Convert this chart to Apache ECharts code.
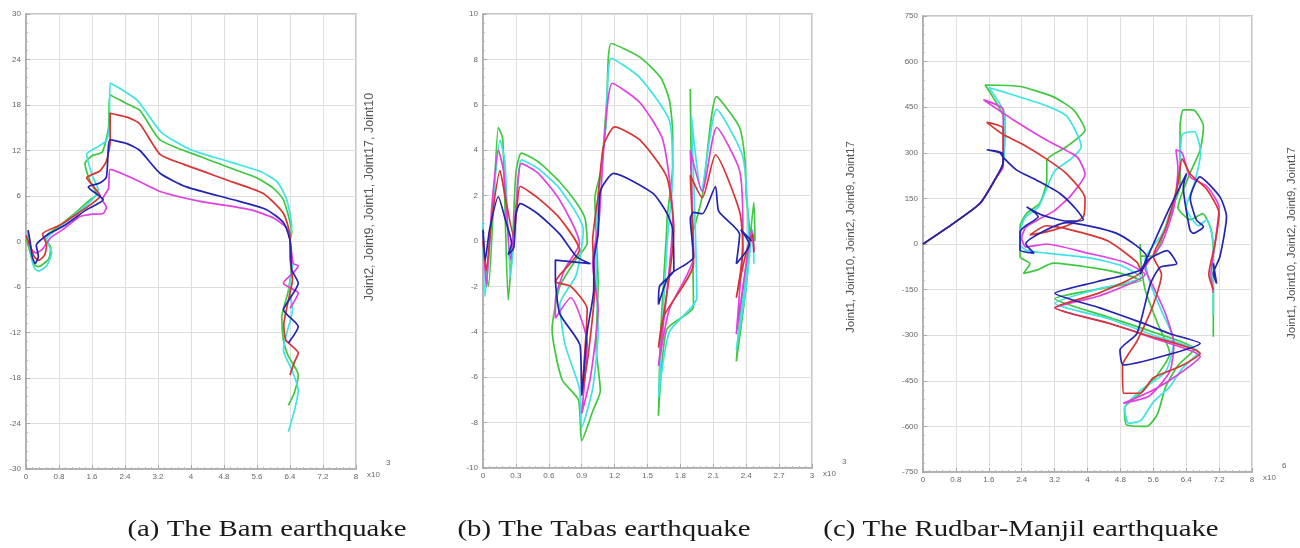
<!DOCTYPE html>
<html>
<head>
<meta charset="utf-8">
<script src="https://cdn.jsdelivr.net/npm/echarts/dist/echarts.min.js"></script>
<style>
  html, body { margin: 0; padding: 0; background: #fff; }
  #chart { width: 1300px; height: 548px; }
</style>
</head>
<body>
<div id="chart"></div>
<script>
// ---- data (x in units of the axis multiplier, y as plotted) ----
var namesA = ['Joint2', 'Joint9', 'Joint1', 'Joint17', 'Joint10'];
var namesBC = ['Joint1', 'Joint10', 'Joint2', 'Joint9', 'Joint17'];
var colors = ['#3fc83f', '#3fe3e3', '#e040e0', '#d83434', '#2424b0'];

// (a) Bam
var bamGreen = [[0,0.3],[0.08,-1],[0.18,-3],[0.3,-3.3],[0.55,-2.3],[0.6,-0.8],[0.45,0.5],[0.8,2],[1.2,3.8],[1.55,5.5],[1.72,6.2],[1.55,8],[1.43,10.3],[1.6,11.3],[1.85,11.8],[2.0,15],[2.04,19.3],[2.4,18.3],[2.76,17.3],[3.25,13.4],[4.22,11.2],[5.0,9.6],[5.59,8.4],[6.0,7],[6.24,5.5],[6.44,1.2],[6.4,0],[6.44,-3],[6.36,-6.5],[6.2,-10],[6.24,-13],[6.35,-15],[6.6,-17.6],[6.5,-20],[6.36,-21.6]];
var bamCyan = [[0,0.5],[0.05,1],[0.12,-1.5],[0.2,-3.5],[0.3,-3.9],[0.5,-3.2],[0.62,-1.5],[0.5,0.3],[0.8,1.8],[1.2,3.6],[1.55,5.2],[1.75,6.8],[1.6,8.8],[1.47,11.5],[1.71,12.4],[1.95,13.3],[2.02,15],[2.04,20.9],[2.3,20.1],[2.7,18.6],[3.0,16.4],[3.3,14.3],[4.0,12.1],[5.0,10.4],[5.7,9.2],[6.1,7.8],[6.32,5.5],[6.44,2],[6.4,0],[6.46,-3],[6.38,-6],[6.46,-9],[6.3,-12.5],[6.24,-14.3],[6.45,-17],[6.6,-19.6],[6.52,-22],[6.36,-25.1]];
var bamMagenta = [[0.05,0],[0.15,-1.2],[0.25,-1.5],[0.4,-1],[0.6,0.5],[0.9,1.6],[1.31,3.3],[1.6,3.6],[1.87,3.7],[1.95,4.5],[1.85,5.5],[2.0,7],[2.04,9.5],[2.6,8.3],[3.25,6.6],[4.22,5.3],[5.43,4.2],[6.0,3.1],[6.32,1.8],[6.4,0.2],[6.48,-2.9],[6.6,-3.2],[6.5,-4],[6.24,-5.5],[6.6,-6.8],[6.4,-8.8]];
var bamRed = [[0,0.8],[0.1,-0.5],[0.2,-2],[0.3,-2.5],[0.45,-1.8],[0.5,-0.5],[0.4,1],[0.8,2.1],[1.2,3.5],[1.6,5],[1.8,6],[1.6,7.5],[1.47,8.4],[1.79,9.3],[1.95,10.6],[2.04,13.2],[2.04,16.9],[2.45,16.4],[2.76,15.5],[3.25,11.5],[3.81,10.2],[5.03,7.8],[5.76,6.3],[6.24,3.7],[6.4,0.7],[6.4,-2],[6.46,-5],[6.35,-8],[6.25,-11],[6.3,-13],[6.6,-14.7],[6.5,-16],[6.4,-17.6]];
var bamBlue = [[0.05,1.5],[0.1,0],[0.15,-2],[0.22,-2.9],[0.3,-2],[0.25,-0.5],[0.58,1.1],[0.9,2],[1.47,4.2],[1.87,5.5],[1.51,7.2],[1.79,7.7],[1.95,8.5],[2.04,13.4],[2.45,12.9],[2.76,12],[3.25,9.0],[3.89,7.2],[5.03,5.5],[5.83,4.2],[6.24,2.5],[6.4,0.2],[6.42,-1.1],[6.44,-3.7],[6.6,-5.5],[6.4,-7.5],[6.24,-9],[6.6,-11.2],[6.36,-13.4]];

// (b) Tabas
var tabGreen = [[0,0.5],[0.02,-1],[0.05,-2],[0.1,2],[0.14,5.0],[0.18,4.5],[0.23,-2.6],[0.27,0],[0.3,3],[0.35,3.87],[0.5,3.5],[0.7,2.6],[0.85,1.7],[0.93,1.0],[0.95,-0.1],[0.85,-0.8],[0.7,-2],[0.63,-3.9],[0.72,-6.1],[0.87,-7.0],[0.9,-8.8],[1.0,-7.5],[1.07,-6.6],[1.03,-4.6],[1.05,-1.9],[1.02,1.9],[1.08,3.2],[1.13,6.3],[1.17,8.7],[1.43,8.1],[1.62,7.2],[1.7,6.2],[1.73,4.7],[1.73,3.3],[1.68,1.1],[1.675,0.48],[1.62,-4],[1.6,-7.7],[1.675,-3.9],[1.92,-2.9],[1.91,0],[1.89,6.7],[1.92,0.5],[2.0,2],[2.13,6.36],[2.34,5.0],[2.39,3.5],[2.4,2.0],[2.43,0.5],[2.35,-3],[2.31,-5.3],[2.4,-2],[2.47,1.7],[2.48,0]];
var tabCyan = [[0,0.8],[0.018,-2.45],[0.08,1],[0.155,4.45],[0.2,3.5],[0.25,-1.6],[0.3,1],[0.35,3.57],[0.5,3.2],[0.7,2.3],[0.915,0.48],[0.85,-1.5],[0.7,-2.8],[0.75,-4.6],[0.88,-6.5],[0.9,-8.2],[1.0,-6.5],[1.05,-4],[1.03,-1],[1.05,2],[1.12,5],[1.17,8.05],[1.43,7.2],[1.7,5.3],[1.73,2.8],[1.68,0],[1.6,-6.9],[1.7,-4],[1.95,-2.5],[1.9,5.5],[1.99,2.2],[2.13,5.8],[2.37,3.7],[2.42,0.05],[2.31,-4.8],[2.4,-2],[2.46,0.5],[2.47,-1]];
var tabMagenta = [[0,0.3],[0.03,-2.0],[0.08,1.5],[0.14,4.0],[0.19,3],[0.25,-0.83],[0.3,1.5],[0.35,3.42],[0.5,3.0],[0.7,1.8],[0.88,-0.1],[0.75,-1.2],[0.66,-2.6],[0.66,-3.4],[0.8,-2.5],[0.95,-4.5],[0.9,-7.6],[0.98,-6],[1.05,-3],[1.0,-1],[1.06,1],[1.1,4],[1.18,6.95],[1.43,6.1],[1.64,4.45],[1.73,1.0],[1.6,-5.5],[1.7,-3],[1.92,-0.7],[1.89,4.0],[2.0,2.2],[2.13,5.0],[2.34,3.1],[2.37,0.4],[2.31,-4.1],[2.4,-1],[2.45,0.5],[2.47,-0.5]];
var tabRed = [[0,0],[0.03,-1.3],[0.08,1],[0.155,3.1],[0.2,2],[0.28,0.2],[0.31,1.5],[0.34,2.4],[0.5,1.9],[0.7,1.0],[0.88,-0.4],[0.7,-1.5],[0.66,-1.8],[0.8,-2],[0.95,-3],[0.92,-5.5],[0.9,-6.8],[0.96,-5],[1.02,-2],[1.0,0],[1.05,2],[1.1,4.2],[1.2,5.03],[1.43,4.45],[1.675,2.83],[1.74,0.5],[1.6,-4.7],[1.65,-3.3],[1.92,-1],[1.89,2.9],[2.0,1.9],[2.12,3.8],[2.34,1.3],[2.37,-0.4],[2.31,-2.5],[2.4,-0.5],[2.46,0.3],[2.47,-0.5]];
var tabBlue = [[0,0.5],[0.02,-0.85],[0.06,0.5],[0.14,1.95],[0.2,1],[0.26,-0.1],[0.23,-0.6],[0.28,-0.3],[0.3,1.2],[0.34,1.65],[0.5,1.2],[0.7,0.3],[0.855,-0.7],[0.98,-1.0],[0.66,-0.84],[0.66,-1.57],[0.7,-3.2],[0.885,-4.6],[0.9,-6.8],[0.95,-4],[1.01,-2.1],[1.01,-0.9],[1.05,0.3],[1.07,2.2],[1.19,2.98],[1.55,2.1],[1.68,1.2],[1.73,0.5],[1.74,-1.3],[1.61,-2.0],[1.6,-2.8],[1.7,-1.5],[1.92,-0.7],[1.89,1.0],[1.92,1.26],[2.0,1.2],[2.12,2.4],[2.15,1.3],[2.34,0.3],[2.31,-1.0],[2.43,-0.15],[2.35,0.5],[2.45,0]];

// (c) Rudbar-Manjil
var rudGreen = [[0,0],[0.74,68],[1.39,134],[1.79,221],[1.95,268],[2.0,400],[1.51,523],[2.36,518],[3.17,484],[3.66,441],[3.94,375],[3.49,320],[3.01,276],[3.01,211],[2.84,134],[2.52,101],[2.36,57],[2.36,-42],[2.6,-64],[2.44,-97],[2.76,-86],[3.17,-63],[4.2,-80],[4.79,-96],[5.3,-120],[4.2,-150],[3.21,-180],[4.5,-240],[5.6,-290],[6.6,-345],[6.2,-400],[5.9,-470],[5.7,-560],[5.44,-600],[4.95,-595],[4.9,-540],[5.3,-490],[5.7,-430],[6.0,-360],[5.7,-260],[5.4,-150],[5.3,-60],[5.28,0],[5.3,-40],[5.6,-40],[6.0,100],[6.25,191],[6.25,386],[6.33,441],[6.57,441],[6.82,386],[6.74,309],[6.49,232],[6.2,120],[6.5,80],[6.8,100],[7.0,50],[7.06,-20],[7.06,-305]];
var rudCyan = [[0,0],[0.74,68],[1.39,134],[1.79,221],[1.95,268],[2.0,420],[1.6,515],[2.2,490],[3.0,455],[3.5,420],[3.85,320],[3.6,280],[3.2,240],[3.0,180],[2.8,120],[2.5,90],[2.4,60],[2.36,0],[2.5,-20],[3.0,-30],[4.0,-45],[4.8,-70],[5.3,-110],[4.2,-150],[3.21,-195],[4.5,-245],[5.6,-300],[6.7,-355],[6.3,-410],[6.0,-470],[5.6,-520],[5.3,-580],[5.0,-590],[4.9,-540],[5.3,-480],[5.9,-420],[6.1,-320],[5.8,-220],[5.5,-120],[5.4,-50],[5.8,30],[6.1,130],[6.25,250],[6.3,360],[6.6,370],[6.75,300],[6.6,200],[6.4,120],[6.7,60],[6.9,80],[7.06,0],[7.06,-230]];
var rudMagenta = [[0,0],[0.74,68],[1.39,134],[1.79,221],[1.95,254],[1.95,441],[1.47,474],[2.2,408],[3.0,342],[3.74,287],[3.94,230],[3.6,160],[3.2,110],[2.8,80],[2.5,55],[2.4,20],[2.5,-10],[3.0,0],[4.0,-30],[4.9,-60],[5.4,-100],[4.3,-170],[3.21,-210],[4.5,-260],[5.6,-310],[6.74,-370],[6.2,-430],[5.6,-480],[4.87,-524],[5.5,-500],[6.0,-420],[6.1,-330],[5.9,-230],[5.6,-140],[5.4,-80],[5.8,0],[6.1,120],[6.2,250],[6.15,310],[6.3,300],[6.5,220],[6.9,190],[7.2,120],[7.1,0],[7.0,-100],[7.06,-160]];
var rudRed = [[0,0],[0.74,68],[1.39,134],[1.79,221],[1.95,265],[1.95,380],[1.55,400],[1.95,360],[2.4,330],[3.0,280],[3.5,230],[3.94,150],[3.9,90],[3.5,60],[3.0,40],[2.6,30],[3.0,60],[3.5,50],[4.5,10],[5.2,-60],[5.3,-90],[4.3,-160],[3.21,-210],[4.5,-260],[5.44,-300],[6.74,-360],[6.3,-400],[5.6,-440],[5.28,-491],[4.87,-491],[4.85,-400],[5.2,-320],[5.6,-200],[5.8,-100],[5.6,-40],[5.9,50],[6.2,200],[6.3,280],[6.5,230],[6.9,180],[7.2,100],[7.1,0],[6.95,-100],[7.06,-150]];
var rudBlue = [[0,0],[0.74,68],[1.39,134],[1.79,221],[1.95,268],[1.92,300],[1.55,310],[1.87,300],[1.95,285],[2.28,243],[2.76,210],[3.33,166],[3.74,112],[3.9,80],[3.5,75],[2.9,95],[2.52,122],[2.8,90],[2.5,60],[2.36,40],[2.36,-20],[2.7,-30],[2.5,0],[3.5,70],[4.71,35],[5.44,-42],[5.28,-86],[4.2,-125],[3.21,-162],[4.3,-210],[5.36,-261],[6.0,-295],[6.74,-327],[5.8,-370],[4.87,-398],[4.79,-349],[5.2,-295],[5.53,-131],[5.77,-76],[6.17,-65],[5.94,-22],[5.5,-50],[5.28,-100],[5.6,0],[6.0,120],[6.33,210],[6.41,232],[6.33,188],[6.49,46],[6.57,35],[6.82,57],[6.65,79],[6.5,150],[6.73,221],[7.22,155],[7.38,90],[7.22,-42],[7.06,-97],[7.14,-130],[7.06,-64],[7.1,-110]];

var bamSets = [bamGreen, bamCyan, bamMagenta, bamRed, bamBlue];
var tabSets = [tabGreen, tabCyan, tabMagenta, tabRed, tabBlue];
var rudSets = [rudGreen, rudCyan, rudMagenta, rudRed, rudBlue];

var axisX = [{min: 0, max: 8, interval: 0.8}, {min: 0, max: 3, interval: 0.3}, {min: 0, max: 8, interval: 0.8}];
var axisY = [{min: -30, max: 30, interval: 6}, {min: -10, max: 10, interval: 2}, {min: -750, max: 750, interval: 150}];
var multipliers = ['3', '3', '6'];
var yTitles = [namesA.join(', '), namesBC.join(', '), namesBC.join(', ')];
var captions = ['(a) The Bam earthquake', '(b) The Tabas earthquake', '(c) The Rudbar-Manjil earthquake'];

var myChart = echarts.init(document.getElementById('chart'));

var grids = [
    {left: 26, top: 14, width: 330, height: 455},
    {left: 483, top: 14, width: 329, height: 454},
    {left: 923, top: 16, width: 329, height: 456}
];

function fmt(v) { return String(+v.toFixed(2)); }

var xAxes = [], yAxes = [], series = [], graphics = [];
grids.forEach(function (g, i) {
    g.show = true;
    g.borderColor = '#c6c6c6';
    g.borderWidth = 2;
    g.backgroundColor = '#fff';
    var common = {
        gridIndex: i,
        type: 'value',
        axisLine: {show: true, onZero: false, lineStyle: {color: '#a8a8a8', width: 1.5}},
        axisTick: {show: true, inside: true, length: 4, lineStyle: {color: '#a8a8a8'}},
        minorTick: {show: true, splitNumber: 5, length: 2, lineStyle: {color: '#b8b8b8'}},
        splitLine: {show: true, lineStyle: {color: '#dedede', width: 1}},
        axisLabel: {fontSize: 8, color: '#666', fontFamily: 'Arial, "Liberation Sans"', formatter: fmt}
    };
    xAxes.push(Object.assign({}, common, axisX[i], {axisLabel: Object.assign({}, common.axisLabel, {margin: 4})}));
    yAxes.push(Object.assign({}, common, axisY[i], {axisLabel: Object.assign({}, common.axisLabel, {margin: 5})}));

    var sets = [bamSets, tabSets, rudSets][i];
    var nm = i === 0 ? namesA : namesBC;
    sets.forEach(function (d, k) {
        series.push({
            name: nm[k],
            type: 'line',
            xAxisIndex: i,
            yAxisIndex: i,
            data: d,
            showSymbol: false,
            symbol: 'none',
            smooth: 0.2,
            lineStyle: {color: colors[k], width: 1.7},
            animation: false,
            z: 2 + k
        });
    });

    // multiplier "x10^n" after the x axis end
    var right = g.left + g.width;
    var bottom = g.top + g.height;
    graphics.push({type: 'text', x: right + 11, y: bottom + 6,
        style: {text: 'x10', font: '8px Arial, "Liberation Sans"', fill: '#666', textVerticalAlign: 'middle'}});
    graphics.push({type: 'text', x: right + 30, y: bottom - 6,
        style: {text: multipliers[i], font: '8px Arial, "Liberation Sans"', fill: '#666', textVerticalAlign: 'middle'}});
});

// rotated series-name titles on the right of each plot
var titleX = [370, 851, 1292];
var titleY = [197, 237, 243];
var titleSize = [12.5, 11.5, 11.5];
yTitles.forEach(function (t, i) {
    graphics.push({type: 'text', x: titleX[i], y: titleY[i], rotation: Math.PI / 2,
        style: {text: t, font: titleSize[i] + 'px Arial, "Liberation Sans"', fill: '#555', textAlign: 'center', textVerticalAlign: 'middle'}});
});

// captions below the plots
var capX = [267, 604, 1021];
captions.forEach(function (c, i) {
    graphics.push({type: 'text', x: capX[i], y: 530, scaleX: 1.2,
        style: {text: c, font: '24px "Liberation Serif"', fill: '#1a1a1a', textAlign: 'center', textVerticalAlign: 'middle'}});
});

var option = {
    backgroundColor: '#fff',
    animation: false,
    grid: grids,
    xAxis: xAxes,
    yAxis: yAxes,
    series: series,
    graphic: graphics
};
myChart.setOption(option);
</script>
</body>
</html>
